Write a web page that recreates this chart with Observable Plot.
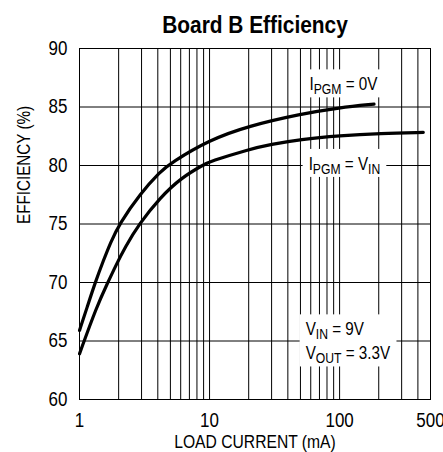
<!DOCTYPE html>
<html><head><meta charset="utf-8">
<script src="https://cdn.jsdelivr.net/npm/d3@7"></script>
<script src="https://cdn.jsdelivr.net/npm/@observablehq/plot@0.6"></script>
<style>
html,body{margin:0;padding:0;background:#fff;}
#chart svg{display:block;}
</style></head><body><div id="chart"></div>
<script>
const title = "Board B Efficiency";
const xLabel = "LOAD CURRENT (mA)";
const yLabel = "EFFICIENCY (%)";
const xTicks = [1, 10, 100, 500];
const yTicks = [60, 65, 70, 75, 80, 85, 90];
const xGrid = [2,3,4,5,6,7,8,9,10,20,30,40,50,60,70,80,90,100,200,300,400];
const yGrid = [65, 70, 75, 80, 85];
const currentPgm0 = [1, 1.146, 1.32, 1.53, 1.73, 2.02, 2.93, 4.2, 5.01, 10, 20.3, 50, 100, 184];
const effPgm0 =     [65.9, 67.9, 70, 71.9, 73.4, 75, 77.6, 79.5, 80.2, 82.2, 83.4, 84.4, 84.95, 85.25];
const currentPgmVin = [1, 1.351, 1.651, 1.902, 2.239, 2.868, 4.2, 6.06, 8.94, 10, 20.3, 29.4, 50, 100, 207, 440];
const effPgmVin =     [63.9, 67.9, 70, 71.45, 73.0, 75, 77.3, 78.95, 80.05, 80.33, 81.4, 81.8, 82.24, 82.55, 82.74, 82.83];
const labelText = ["I_PGM_ = 0V", "I_PGM_ = V_IN_", "V_IN_ = 9V", "V_OUT_ = 3.3V"];
const labelX = [107, 109, 54.8, 54.8];
const labelY = [86.9, 80.1, 65.96, 63.9];
const labelAnchor = ["middle", "middle", "start", "start"];
const labelBox = [0, 1, 2, 2];

const FONT = '"Liberation Sans", Arial, sans-serif';
const NARROW = 0.87;

const rows0 = currentPgm0.map((c, i) => ({current: c, eff: effPgm0[i]}));
const rowsVin = currentPgmVin.map((c, i) => ({current: c, eff: effPgmVin[i]}));
const idx = labelText.map((_, i) => i);
const boxes = [...new Set(labelBox)];

const annoMarks = boxes.map(b => {
  const ids = idx.filter(i => labelBox[i] === b);
  return Plot.text(ids, {
    x: i => labelX[i], y: i => labelY[i], text: i => labelText[i],
    textAnchor: labelAnchor[ids[0]], lineAnchor: "middle",
    fontSize: 17.5, fill: "#000", className: "anno anno-b" + b
  });
});

const chart = Plot.plot({
  width: 443, height: 452,
  marginLeft: 79, marginRight: 13, marginTop: 48, marginBottom: 53,
  x: {type: "log", domain: [1, 500], axis: null},
  y: {domain: [60, 90], axis: null},
  style: {fontFamily: FONT, background: "#fff", color: "#000"},
  marks: [
    Plot.ruleX(xGrid, {stroke: "#000", strokeWidth: 1, className: "grid"}),
    Plot.ruleY(yGrid, {stroke: "#000", strokeWidth: 1, className: "grid"}),
    Plot.line(rows0, {x: "current", y: "eff", curve: "basis", stroke: "#000", strokeWidth: 3.2}),
    Plot.line(rowsVin, {x: "current", y: "eff", curve: "basis", stroke: "#000", strokeWidth: 3.2}),
    Plot.frame({stroke: "#000", strokeWidth: 1}),
    Plot.text(xTicks, {x: d => d, text: d => String(d), frameAnchor: "bottom", lineAnchor: "top", dy: 14, fontSize: 19.5, fill: "#000"}),
    Plot.text(yTicks, {y: d => d, text: d => String(d), frameAnchor: "left", textAnchor: "end", lineAnchor: "middle", dx: -12, fontSize: 19.5, fill: "#000"}),
    ...annoMarks,
    Plot.text([title], {text: d => d, frameAnchor: "top", dy: -23, lineAnchor: "middle", fontWeight: "bold", fontSize: 24, fill: "#000"}),
    Plot.text([xLabel], {text: d => d, frameAnchor: "bottom", dy: 36, lineAnchor: "top", fontSize: 18, fill: "#000"}),
    Plot.text([yLabel], {text: d => d, frameAnchor: "left", dx: -55, rotate: -90, lineAnchor: "middle", fontSize: 17.5, fill: "#000"})
  ]
});
document.getElementById("chart").appendChild(chart);

// subscripts
const svg = d3.select(chart);
svg.selectAll(".anno text").each(function () {
  const t = d3.select(this);
  const s = t.text();
  t.text(null);
  let sub = false;
  s.split("_").forEach((p, k) => {
    const isSub = k % 2 === 1;
    if (!p) { sub = isSub; return; }
    const ts = t.append("tspan").text(p);
    if (isSub && !sub) ts.attr("dy", 4);
    if (!isSub && sub) ts.attr("dy", -4);
    if (isSub) ts.attr("font-size", 14);
    sub = isSub;
  });
});

// condensed look: narrow every text horizontally
chart.querySelectorAll("text").forEach(el => {
  const w = el.getComputedTextLength();
  if (w > 0) {
    el.setAttribute("textLength", (w * NARROW).toFixed(2));
    el.setAttribute("lengthAdjust", "spacingAndGlyphs");
  }
});

// white boxes behind annotations (from measured text extents)
const svgRect = chart.getBoundingClientRect();
const grids = chart.querySelectorAll(".grid");
const lastGrid = grids[grids.length - 1];
const bg = document.createElementNS("http://www.w3.org/2000/svg", "g");
chart.insertBefore(bg, lastGrid.nextSibling);
boxes.forEach(b => {
  let x0 = Infinity, y0 = Infinity, x1 = -Infinity, y1 = -Infinity;
  chart.querySelectorAll(".anno-b" + b + " text").forEach(el => {
    const r = el.getBoundingClientRect();
    x0 = Math.min(x0, r.left - svgRect.left); y0 = Math.min(y0, r.top - svgRect.top);
    x1 = Math.max(x1, r.right - svgRect.left); y1 = Math.max(y1, r.bottom - svgRect.top);
  });
  d3.select(bg).append("rect")
    .attr("x", x0 - 6).attr("y", y0 - 5)
    .attr("width", x1 - x0 + 12).attr("height", y1 - y0 + 5)
    .attr("fill", "#fff");
});
</script></body></html>
